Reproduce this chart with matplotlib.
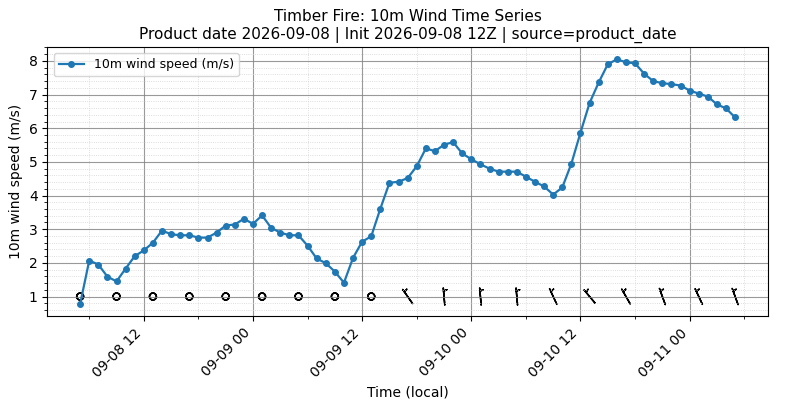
import numpy as np
import pandas as pd
import matplotlib
matplotlib.use("Agg")
import matplotlib.pyplot as plt
import matplotlib.dates as mdates
from matplotlib.ticker import MultipleLocator

start = "2026-09-08 05:00"
speed = [0.78, 2.07, 1.95, 1.59, 1.45, 1.83, 2.2, 2.37, 2.6, 2.96, 2.85, 2.82, 2.82, 2.75, 2.75, 2.9, 3.11, 3.14, 3.31,
         3.16, 3.41, 3.04, 2.9, 2.82, 2.82, 2.51, 2.13, 1.99, 1.74, 1.41, 2.15, 2.63, 2.79, 3.61, 4.38, 4.41, 4.52, 4.87, 5.40, 5.32, 5.51, 5.59, 5.25,
         5.08, 4.93, 4.80, 4.71, 4.71, 4.71, 4.56, 4.41, 4.27, 4.03, 4.24, 4.95, 5.87, 6.75, 7.36, 7.90, 8.05, 7.96, 7.93, 7.62, 7.40, 7.34, 7.31, 7.27,
         7.12, 7.03, 6.94, 6.71, 6.59, 6.32]
times = pd.date_range(start, periods=len(speed), freq="h")
# wind-from directions (deg) at barb times (every 4 h)
barb_dir = [330, 330, 330, 330, 330, 330, 330, 330, 330, 325, 355, 355, 355, 335, 320, 330, 340, 335, 340]

fig, ax = plt.subplots(figsize=(7.9, 4.09), dpi=100)
ax.plot(times, speed, marker="o", ms=4, lw=1.6, color="#1f77b4", label="10m wind speed (m/s)")

bt = times[::4]
bs = np.array(speed[::4])
th = np.deg2rad(barb_dir)
u = -bs * np.sin(th)
v = -bs * np.cos(th)
ax.barbs(mdates.date2num(bt), np.ones(len(bt)), u, v, length=5, pivot="middle",
         barb_increments=dict(half=3.5, full=100, flag=500), rounding=False, color="black", lw=1.1,
         sizes=dict(emptybarb=0.2))

ax.xaxis.set_major_locator(mdates.HourLocator(byhour=[0, 12]))
ax.xaxis.set_minor_locator(mdates.HourLocator(byhour=[6, 18]))
ax.xaxis.set_major_formatter(mdates.DateFormatter("%m-%d %H"))
ax.yaxis.set_minor_locator(MultipleLocator(0.2))
ax.grid(True, which="major", color="gray", lw=0.8, alpha=0.8)
ax.grid(True, which="minor", color="lightgray", ls=":", lw=0.6)
plt.setp(ax.get_xticklabels(), rotation=45, ha="right")
ax.set_xlabel("Time (local)")
ax.set_ylabel("10m wind speed (m/s)")
ax.set_title("Timber Fire: 10m Wind Time Series\nProduct date 2026-09-08 | Init 2026-09-08 12Z | source=product_date", fontsize=11)
ax.legend(loc="upper left", fontsize=9)
fig.subplots_adjust(left=0.06, right=0.972, top=0.885, bottom=0.227)
fig.savefig("out.png", dpi=100)
